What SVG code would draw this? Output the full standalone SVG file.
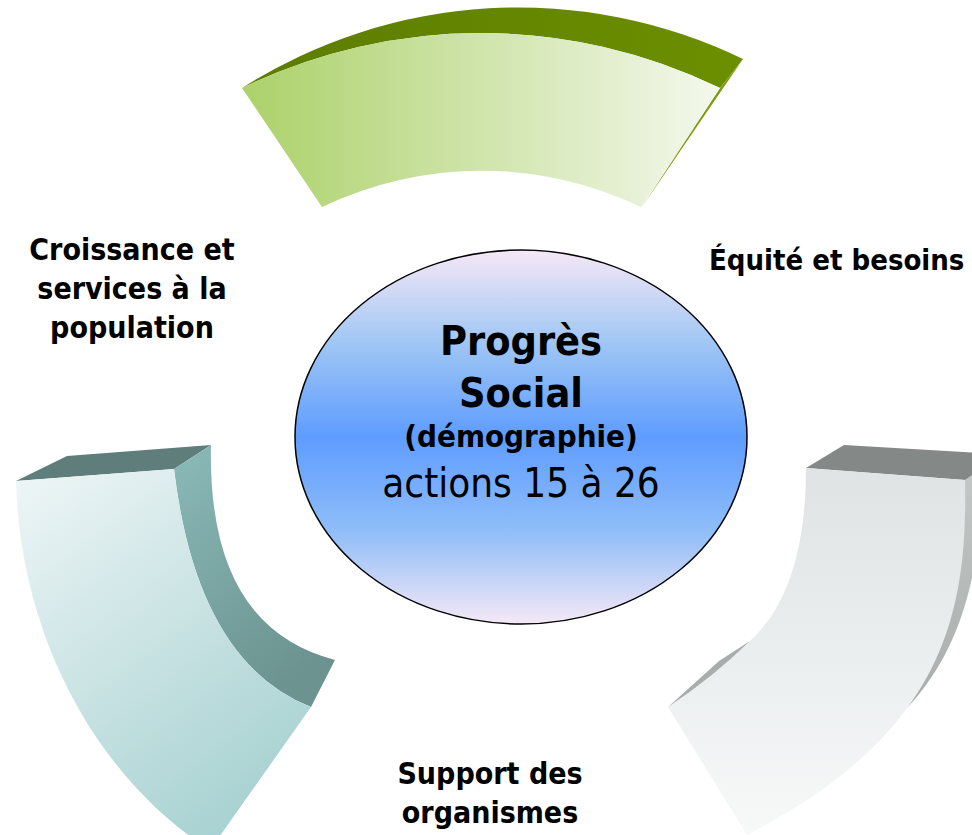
<svg xmlns="http://www.w3.org/2000/svg" width="972" height="835" viewBox="0 0 972 835">
<defs>
<linearGradient id="gTopFront" x1="0" y1="0" x2="1" y2="0">
<stop offset="0" stop-color="#acd16a"/><stop offset="1" stop-color="#f4f8ed"/>
</linearGradient>
<linearGradient id="gTopDark" x1="0" y1="0" x2="1" y2="0">
<stop offset="0" stop-color="#5c7c00"/><stop offset="1" stop-color="#6c8f00"/>
</linearGradient>
<linearGradient id="gLFront" x1="0" y1="0" x2="0.6" y2="1">
<stop offset="0" stop-color="#eff6f7"/><stop offset="1" stop-color="#a9d2d2"/>
</linearGradient>
<linearGradient id="gLSide" x1="0" y1="0" x2="0.5" y2="1">
<stop offset="0" stop-color="#8abab8"/><stop offset="1" stop-color="#6c9390"/>
</linearGradient>
<linearGradient id="gRFront" x1="0" y1="0" x2="0" y2="1">
<stop offset="0" stop-color="#dfe3e3"/><stop offset="1" stop-color="#f7f9f9"/>
</linearGradient>
<linearGradient id="gRSide" x1="0" y1="0" x2="0" y2="1">
<stop offset="0" stop-color="#c3c7c6"/><stop offset="1" stop-color="#a9aeac"/>
</linearGradient>
<linearGradient id="gRWedge" x1="0" y1="0" x2="1" y2="1">
<stop offset="0" stop-color="#999d9c"/><stop offset="1" stop-color="#b9bdbc"/>
</linearGradient>
<linearGradient id="gEll" x1="0" y1="0" x2="0" y2="1">
<stop offset="0" stop-color="#f6e8f6"/>
<stop offset="0.25" stop-color="#9fc6f4"/>
<stop offset="0.5" stop-color="#5e9cff"/>
<stop offset="0.75" stop-color="#8fbdf8"/>
<stop offset="1" stop-color="#f6e8f6"/>
</linearGradient>
</defs>
<style>
.lbl{font-family:"DejaVu Sans Condensed","DejaVu Sans",sans-serif;font-weight:bold;font-size:30px;fill:#000;text-anchor:middle}
.ctr{font-family:"DejaVu Sans Condensed","DejaVu Sans",sans-serif;fill:#000;text-anchor:middle}
</style>
<rect width="972" height="835" fill="#fff"/>

<g id="arc-top">
<path d="M242,88 A515,515 0 0 1 743,59 L720,88 A547,547 0 0 0 242,88 Z" fill="url(#gTopDark)"/>
<path d="M720,88 L743,59 L642,207 Z" fill="#7b9c0e"/>
<path d="M242,88 A547,547 0 0 1 720,88 L641,207 A369,369 0 0 0 322,207 Z" fill="url(#gTopFront)"/>
</g>

<g id="arc-left">
<path d="M16,481 L67,456 L211,445 L174,469 Z" fill="#5f7d7a"/>
<path d="M174,469 L211,445 Q207,627 335,660 L311,707 Q197,662 174,469 Z" fill="url(#gLSide)"/>
<path d="M16,481 L174,469 Q197,662 311,707 L210,850 C100,780 20,640 16,481 Z" fill="url(#gLFront)"/>
</g>

<g id="arc-right">
<path d="M806,468 L844,445 L1016,455 L965,480 Z" fill="#848987"/>
<path d="M965,480 L985,466 C980,580 960,650 908,707 Z" fill="url(#gRSide)"/>
<path d="M806,468 L965,480 C968,620 940,735 747,835 L668,707 Q712,678 750,641 Q806,590 806,468 Z" fill="url(#gRFront)"/>
<path d="M750,641 L719,661 L668,707 Q712,678 750,641 Z" fill="url(#gRWedge)"/>
</g>

<g id="center">
<ellipse cx="521" cy="437" rx="226" ry="187" fill="url(#gEll)" stroke="#000" stroke-width="1.5"/>
<text class="ctr" x="521" y="355" font-size="41" font-weight="bold">Progrès</text>
<text class="ctr" x="521" y="407" font-size="41" font-weight="bold">Social</text>
<text class="ctr" x="521" y="447" font-size="31" font-weight="bold">(démographie)</text>
<text class="ctr" x="521" y="497" font-size="40">actions 15 à 26</text>
</g>

<g id="label-croissance">
<text class="lbl" x="132" y="260">Croissance et</text>
<text class="lbl" x="132" y="299">services à la</text>
<text class="lbl" x="132" y="338">population</text>
</g>
<g id="label-equite">
<text class="lbl" x="709" y="270" font-size="29" style="text-anchor:start;font-size:29px">Équité et besoins</text>
</g>
<g id="label-support">
<text class="lbl" x="490" y="784">Support des</text>
<text class="lbl" x="490" y="823">organismes</text>
</g>
</svg>
